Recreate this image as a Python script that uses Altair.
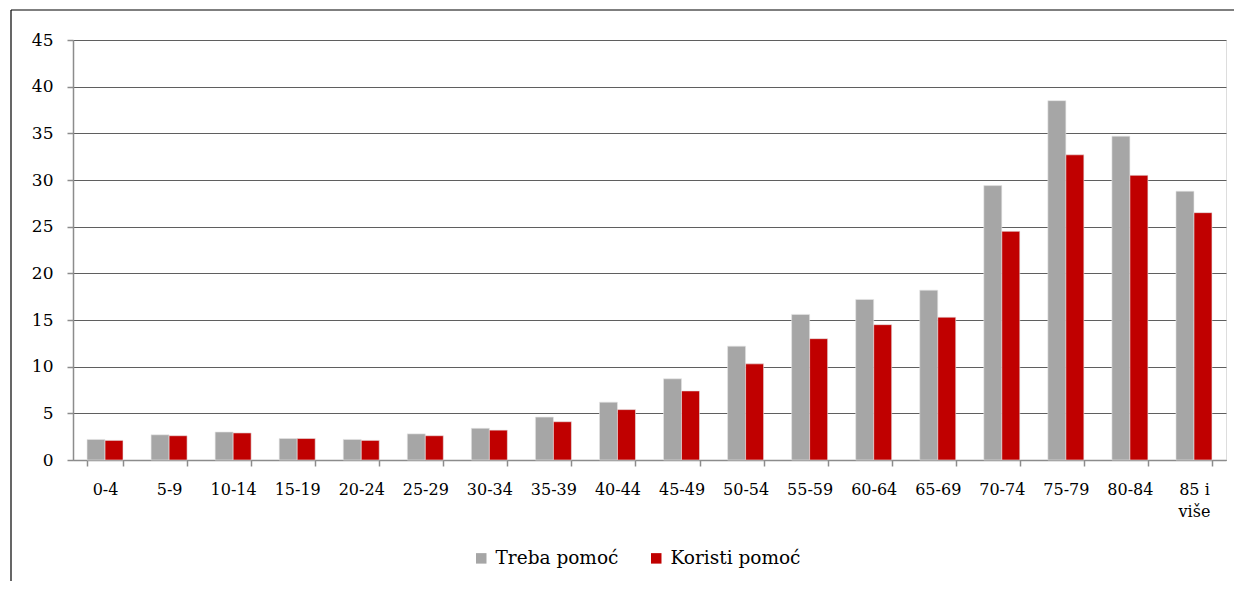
import altair as alt
import pandas as pd

categories = ["0-4", "5-9", "10-14", "15-19", "20-24", "25-29", "30-34", "35-39",
              "40-44", "45-49", "50-54", "55-59", "60-64", "65-69", "70-74",
              "75-79", "80-84", "85 i više"]
treba = [2.2, 2.7, 3.0, 2.3, 2.2, 2.8, 3.4, 4.6, 6.2, 8.7, 12.2, 15.6, 17.2, 18.2,
         29.4, 38.5, 34.7, 28.8]
koristi = [2.1, 2.6, 2.9, 2.3, 2.1, 2.6, 3.2, 4.1, 5.4, 7.4, 10.3, 13.0, 14.5, 15.3,
           24.5, 32.7, 30.5, 26.5]
series = ["Treba pomoć", "Koristi pomoć"]
colors = ["#A6A6A6", "#C00000"]
y_ticks = [0, 5, 10, 15, 20, 25, 30, 35, 40, 45]

rows = []
for c, t, k in zip(categories, treba, koristi):
    rows.append({"grupa": c, "serija": series[0], "vrijednost": t})
    rows.append({"grupa": c, "serija": series[1], "vrijednost": k})
df = pd.DataFrame(rows)

W, H = 1153, 420
FONT = "DejaVu Serif"
FS = 16
AXIS_GREY = "#8c8c8c"

bars = alt.Chart(df).mark_bar(stroke="#e6e6e6", strokeWidth=0.6).encode(
    x=alt.X(
        "grupa:N", sort=categories, title=None,
        scale=alt.Scale(paddingInner=0.438, paddingOuter=0.219),
        axis=alt.Axis(
            labelAngle=0, tickBand="extent", ticks=True, tickSize=6,
            tickColor=AXIS_GREY, tickWidth=1.5, domainColor=AXIS_GREY, domainWidth=1.5,
            labelPadding=15, labelFont=FONT, labelFontSize=FS, labelColor="#000000",
            grid=False, labelLineHeight=22,
            labelExpr="datum.label == '85 i više' ? ['85 i', 'više'] : datum.label",
        ),
    ),
    xOffset=alt.XOffset("serija:N", sort=series,
                        scale=alt.Scale(paddingInner=0, paddingOuter=0)),
    y=alt.Y(
        "vrijednost:Q", title=None,
        scale=alt.Scale(domain=[0, 45], nice=False),
        axis=alt.Axis(
            values=y_ticks, tickSize=6, tickColor=AXIS_GREY, tickWidth=1.5,
            domainColor=AXIS_GREY, domainWidth=1.5, labelPadding=14,
            labelFont=FONT, labelFontSize=17, labelColor="#000000",
            grid=True, gridColor="#5f5f5f", gridWidth=1,
        ),
    ),
    color=alt.Color(
        "serija:N", sort=series,
        scale=alt.Scale(domain=series, range=colors),
        legend=alt.Legend(
            title=None, orient="none", legendX=399, legendY=509,
            direction="horizontal", symbolType="square", symbolSize=110,
            symbolStrokeWidth=0, labelFont=FONT, labelFontSize=18.5,
            labelColor="#000000", columnPadding=28, labelOffset=5,
        ),
    ),
)

frame_data = alt.Data(values=[{"k": 0}])
frame_left = alt.Chart(frame_data).mark_rule(color="#000000", strokeWidth=1.2).encode(
    x=alt.value(-62), y=alt.value(-30), y2=alt.value(H + 200)
)
frame_top = alt.Chart(frame_data).mark_rule(color="#000000", strokeWidth=1.2).encode(
    x=alt.value(-62), x2=alt.value(W + 100), y=alt.value(-30)
)

chart = alt.layer(bars, frame_left, frame_top).properties(
    width=W, height=H,
    autosize=alt.AutoSizeParams(type="none"),
    padding={"left": 65, "top": 32, "right": 8, "bottom": 121},
).configure_view(
    stroke="#a6a6a6", strokeWidth=1.5
).configure(background="#ffffff")

chart.save("out.html", embed_options={"renderer": "svg", "actions": False})
